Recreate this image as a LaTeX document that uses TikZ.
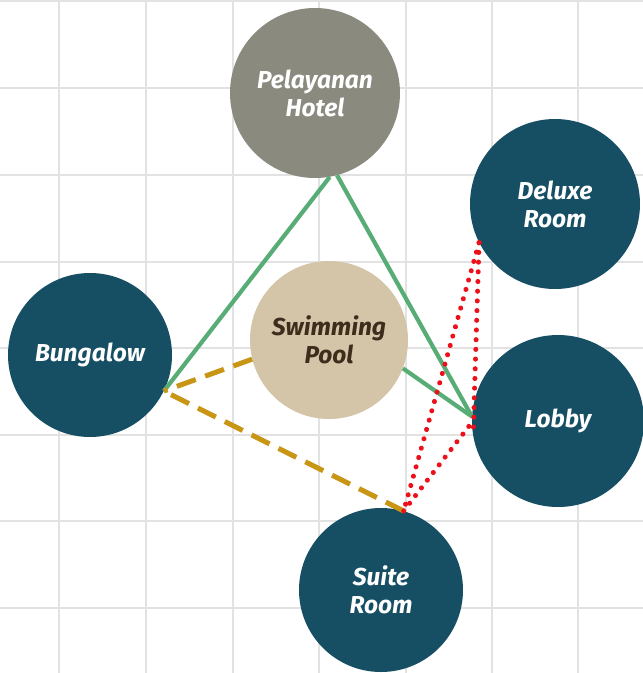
\documentclass[tikz,border=0pt]{standalone}
\usepackage{fontspec}
\setmainfont{Fira Sans}
\definecolor{teal}{RGB}{22,79,99}
\definecolor{hotelgray}{RGB}{138,138,127}
\definecolor{poolbeige}{RGB}{212,196,168}
\definecolor{pooltext}{RGB}{62,45,28}
\definecolor{gridgray}{RGB}{226,226,226}
\definecolor{lgreen}{RGB}{88,172,118}
\definecolor{lgold}{RGB}{200,150,20}
\definecolor{lred}{RGB}{235,16,26}
\tikzset{
  bubble/.style={circle, inner sep=0pt, align=center, font=\fontsize{24.5}{28}\selectfont\bfseries\itshape, text=white},
  darkbubble/.style={bubble, fill=teal},
  greenline/.style={draw=lgreen, line width=4.2pt},
  goldline/.style={draw=lgold, line width=5pt, dash pattern=on 20pt off 10pt},
  redline/.style={draw=lred, line width=5pt, line cap=round, dash pattern=on 0.1pt off 9.6pt}
}
\begin{document}
\begin{tikzpicture}[x=1pt,y=-1pt]
\useasboundingbox (0,0) rectangle (643,673);
\fill[white] (0,0) rectangle (643,673);
\foreach \gx in {59,146,233,319,406,492,578}
  \draw[gridgray, line width=1.4pt] (\gx,0) -- (\gx,673);
\foreach \gy in {1,88,175,262,348,435,521,608}
  \draw[gridgray, line width=1.4pt] (0,\gy) -- (643,\gy);

\node[bubble, fill=hotelgray, minimum size=170pt] (hotel) at (315,93) {Pelayanan\\Hotel};
\node[darkbubble, minimum size=170pt] (deluxe) at (555,204) {Deluxe\\Room};
\node[darkbubble, minimum size=164pt] (bung) at (90,355) {Bungalow};
\node[bubble, fill=poolbeige, text=pooltext, minimum size=158pt] (pool) at (329,340) {Swimming\\Pool};
\node[darkbubble, minimum size=172pt] (lobby) at (558,421) {Lobby};
\node[darkbubble, minimum size=164pt] (suite) at (381,590) {Suite\\Room};

\draw[greenline] (hotel.-80) -- (bung.-26);
\draw[greenline] (hotel.-75) -- (lobby.177);
\draw[greenline] (pool.-21) -- (lobby.177);
\draw[goldline] (pool.-166) -- (bung.-26);
\draw[goldline] (suite.74) -- (bung.-26);
\draw[redline] (deluxe.207) -- (suite.74);
\draw[redline] (deluxe.207) -- (lobby.190);
\draw[redline] (suite.74) -- (lobby.181);
\end{tikzpicture}
\end{document}
